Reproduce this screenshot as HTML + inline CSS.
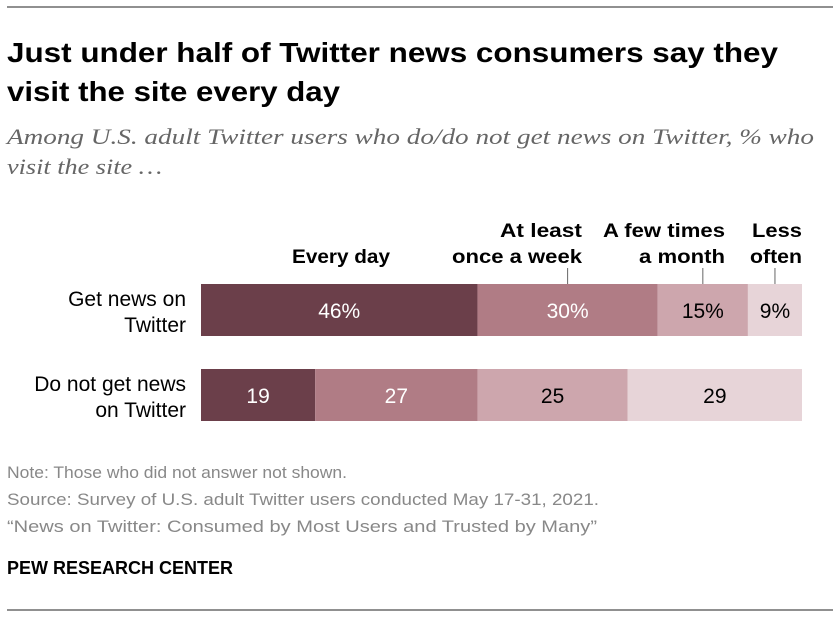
<!DOCTYPE html>
<html><head><meta charset="utf-8"><style>
body{margin:0;background:#fff;width:840px;height:618px;overflow:hidden;font-family:"Liberation Sans",sans-serif;}
</style></head><body>
<svg id="chart" width="840" height="618" xmlns="http://www.w3.org/2000/svg" font-family="Liberation Sans, sans-serif">
<line x1="7" y1="7" x2="833" y2="7" stroke="#222" stroke-width="1"/>
<text x="7" y="62" font-size="28" font-weight="bold" fill="#000" textLength="771" lengthAdjust="spacingAndGlyphs">Just under half of Twitter news consumers say they</text>
<text x="7" y="101" font-size="28" font-weight="bold" fill="#000" textLength="333" lengthAdjust="spacingAndGlyphs">visit the site every day</text>
<text x="7" y="144" font-size="22" font-style="italic" fill="#666" font-family="Liberation Serif, serif" textLength="807" lengthAdjust="spacingAndGlyphs">Among U.S. adult Twitter users who do/do not get news on Twitter, % who</text>
<text x="7" y="174" font-size="22" font-style="italic" fill="#666" font-family="Liberation Serif, serif" textLength="155" lengthAdjust="spacingAndGlyphs">visit the site …</text>
<g id="bars"></g>
<text x="7" y="478" font-size="17" fill="#888" textLength="340" lengthAdjust="spacingAndGlyphs">Note: Those who did not answer not shown.</text>
<text x="7" y="505" font-size="17" fill="#888" textLength="592" lengthAdjust="spacingAndGlyphs">Source: Survey of U.S. adult Twitter users conducted May 17-31, 2021.</text>
<text x="7" y="532" font-size="17" fill="#888" textLength="590" lengthAdjust="spacingAndGlyphs">“News on Twitter: Consumed by Most Users and Trusted by Many”</text>
<text x="7" y="574" font-size="18" font-weight="bold" fill="#000" textLength="226" lengthAdjust="spacingAndGlyphs">PEW RESEARCH CENTER</text>
<line x1="7" y1="610" x2="833" y2="610" stroke="#222" stroke-width="1"/>
</svg>
<script>
const categories = [["Get news on","Twitter"],["Do not get news","on Twitter"]];
const seriesNames = [["Every day"],["At least","once a week"],["A few times","a month"],["Less","often"]];
const row1 = [46,30,15,9];
const row2 = [19,27,25,29];
const values = [row1,row2];
const colors = ["#6b3f4a","#b07c85","#cda6ad","#e7d4d8"];
const textColors = ["#fff","#fff","#000","#000"];
const X0 = 201, W = 601;
const xs = v => X0 + v / 100 * W;
const rowY = [284, 369], BH = 52;
const NS = "http://www.w3.org/2000/svg";
const g = document.getElementById('bars');
function mk(tag, attrs, txt){const e=document.createElementNS(NS,tag);for(const k in attrs)e.setAttribute(k,attrs[k]);if(txt!==undefined)e.textContent=txt;g.appendChild(e);return e;}
values.forEach((row, r) => {
  categories[r].forEach((line, li) => {
    const t = mk('text',{x:186,y:rowY[r]+22+li*26,'font-size':21,'text-anchor':'end',fill:'#000'},line);
    
    
  });
  let cum = 0;
  row.forEach((v, i) => {
    const x1 = xs(cum), x2 = xs(cum + v);
    const rc = mk('rect',{x:x1,y:rowY[r],width:x2-x1,height:BH,fill:colors[i]});
    
    
    const lbl = r === 0 ? v + '%' : String(v);
    const t = mk('text',{x:(x1+x2)/2,y:rowY[r]+34,'font-size':21,'text-anchor':'middle',fill:textColors[i]},lbl);
    
    
    if (r === 0) {
      const names = seriesNames[i];
      const rightX = i === 0 ? 390 : (i === 3 ? x2 : (i === 1 ? 582 : 725));
      names.forEach((n, ni) => {
        const y = 263 - (names.length - 1 - ni) * 26;
        const lt = mk('text',{x:rightX,y:y,'font-size':19,'font-weight':'bold','text-anchor':'end',fill:'#000'},n);
        
        
        const wmap = {"Every day":98,"At least":82,"once a week":130,"A few times":122,"a month":86,"Less":50,"often":52};
        if (wmap[n]) { lt.setAttribute('textLength', wmap[n]); lt.setAttribute('lengthAdjust','spacingAndGlyphs'); }
      });
      if (i > 0) {
        const cx = (x1 + x2) / 2;
        const ln = mk('line',{x1:cx,y1:268,x2:cx,y2:284,stroke:'#666','stroke-width':1});
        
        
      }
    }
    cum += v;
  });
});
</script>
</body></html>
